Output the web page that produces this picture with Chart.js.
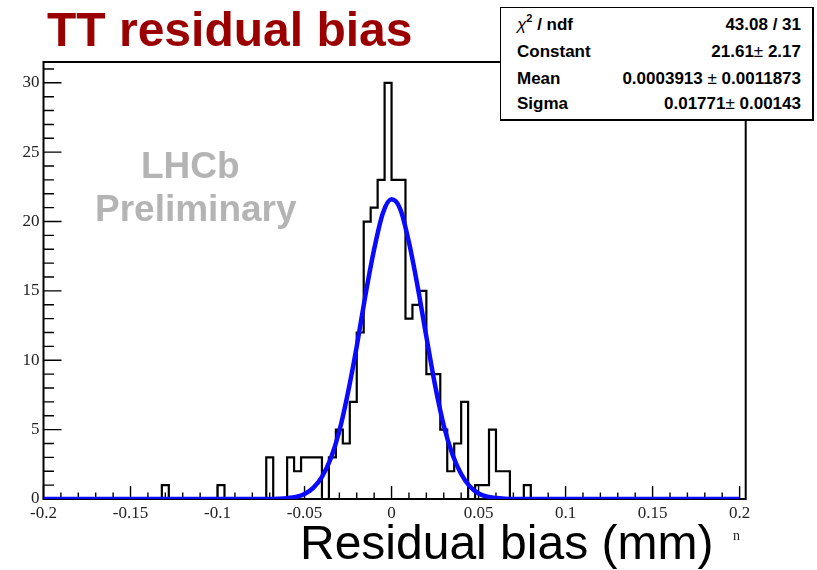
<!DOCTYPE html>
<html>
<head>
<meta charset="utf-8">
<script src="https://cdn.jsdelivr.net/npm/chart.js@4.4.1/dist/chart.umd.min.js"></script>
<style>
  html, body { margin: 0; padding: 0; background: #fff; }
  #wrap { position: relative; width: 817px; height: 570px; overflow: hidden; }
  #c { position: absolute; left: 0; top: 0; }
  .t { position: absolute; white-space: nowrap; font-family: "Liberation Sans", Arial, sans-serif; }
  #title { left: 47px; top: 6px; font-size: 48px; line-height: 48px; font-weight: bold; color: #9b0000; }
  #lhcb1 { left: 141px; top: 147px; font-size: 37px; line-height: 37px; font-weight: bold; color: #b4b4b4; }
  #lhcb2 { left: 95px; top: 190px; font-size: 37px; line-height: 37px; font-weight: bold; color: #b4b4b4; }
  #xtitle { left: 300px; top: 519px; font-size: 48px; line-height: 48px; color: #000; }
  #nn { left: 733px; top: 529px; font-size: 14px; line-height: 14px; font-family: "Liberation Serif", serif; color: #222; }
  #stats { position: absolute; left: 500px; top: 7px; width: 311px; height: 111px; background: #fff;
           border: 1.5px solid #000; border-bottom-width: 2.5px; border-right-width: 2.5px; }
  .row { position: absolute; left: 0; width: 100%; height: 20px; font-size: 17px; line-height: 20px; font-weight: bold; font-family: "Liberation Sans", Arial, sans-serif; }
  .lab { position: absolute; left: 16px; }
  .val { position: absolute; right: 11px; }
  .pm { font-weight: normal; }
  sup { font-size: 11px; line-height: 0; position: relative; top: -1px; }
</style>
</head>
<body>
<div id="wrap">
  <canvas id="c" width="817" height="570"></canvas>
  <div class="t" id="title">TT residual bias</div>
  <div class="t" id="lhcb1">LHCb</div>
  <div class="t" id="lhcb2">Preliminary</div>
  <div class="t" id="xtitle">Residual bias (mm)</div>
  <div class="t" id="nn">n</div>
  <div id="stats">
    <div class="row" style="top:7px"><span class="lab"><span style="font-weight:normal;font-style:italic">χ</span><sup>2</sup> / ndf</span><span class="val">43.08 / 31</span></div>
    <div class="row" style="top:34px"><span class="lab">Constant</span><span class="val">21.61<span class="pm">±</span> 2.17</span></div>
    <div class="row" style="top:61px"><span class="lab">Mean</span><span class="val">0.0003913 <span class="pm">±</span> 0.0011873</span></div>
    <div class="row" style="top:86px"><span class="lab">Sigma</span><span class="val">0.01771<span class="pm">±</span> 0.00143</span></div>
  </div>
</div>
<script>
// ---------- data ----------
const binLow = -0.2;
const binWidth = 0.004;
const counts = [
  0,0,0,0,0,0,0,0,0,0, 0,0,0,0,0,0,0,1,0,0,
  0,0,0,0,0,1,0,0,0,0, 0,0,3,0,0,3,2,3,3,3,
  0,3,5,4,7,12,20,21,23,30, 23,23,13,14,15,9,9,5,2,4,
  7,0,1,1,5,2,2,0,0,1, 0,0,0,0,0,0,0,0,0,0,
  0,0,0,0,0,0,0,0,0,0, 0,0,0,0,0,0,0,0,0,0
];
// Gaussian fit curve
const fitX = [-0.2, -0.07, -0.065, -0.06, -0.055, -0.05, -0.045, -0.04, -0.035, -0.03, -0.025, -0.02, -0.015, -0.01, -0.005,
              0, 0.005, 0.01, 0.015, 0.02, 0.025, 0.03, 0.035, 0.04, 0.045, 0.05, 0.055, 0.06, 0.065, 0.07, 0.2];
const fitY = [0, 0, 0.02, 0.06, 0.15, 0.36, 0.8, 1.6, 2.9, 4.9, 7.7, 11.0, 14.7, 18.0, 20.6,
              21.6, 20.9, 18.5, 15.3, 11.7, 8.2, 5.3, 3.2, 1.8, 0.9, 0.4, 0.17, 0.07, 0.02, 0, 0];
const xTicks = [-0.2, -0.15, -0.1, -0.05, 0, 0.05, 0.1, 0.15, 0.2];
const xTickLabels = ["-0.2", "-0.15", "-0.1", "-0.05", "0", "0.05", "0.1", "0.15", "0.2"];
const yTicks = [0, 5, 10, 15, 20, 25, 30];
const yTickLabels = ["0", "5", "10", "15", "20", "25", "30"];
const xMinorStep = 0.01;
const yMinorStep = 1;

// ---------- build ----------
const histPoints = counts.map((c, i) => ({ x: binLow + i * binWidth, y: c }));
histPoints.push({ x: binLow + counts.length * binWidth, y: counts[counts.length - 1] });
const fitPoints = fitX.map((x, i) => ({ x: x, y: fitY[i] }));

const framePlugin = {
  id: 'rootFrame',
  beforeDatasetsDraw(chart) {
    const { ctx, chartArea: a, scales } = chart;
    const xs = scales.x, ys = scales.y;
    ctx.save();
    ctx.strokeStyle = '#000';
    ctx.lineWidth = 2;
    ctx.strokeRect(a.left, a.top, a.right - a.left, a.bottom - a.top);
    ctx.lineWidth = 1.4;
    ctx.beginPath();
    const nx = Math.round((xTicks[xTicks.length - 1] - xTicks[0]) / xMinorStep);
    for (let i = 0; i <= nx; i++) {
      const v = xTicks[0] + i * xMinorStep;
      const px = xs.getPixelForValue(v);
      const len = (i % 5 === 0) ? 13 : 6.5;
      ctx.moveTo(px, a.bottom);
      ctx.lineTo(px, a.bottom - len);
    }
    for (let v = 0; v <= ys.max; v += yMinorStep) {
      const py = ys.getPixelForValue(v);
      const len = (Math.round(v) % 5 === 0) ? 18 : 10.5;
      ctx.moveTo(a.left, py);
      ctx.lineTo(a.left + len, py);
    }
    ctx.stroke();
    ctx.restore();
  }
};

const tickFont = { family: "'Liberation Serif', 'Times New Roman', serif", size: 17 };

new Chart(document.getElementById('c'), {
  type: 'line',
  data: {
    datasets: [
      { label: 'fit', data: fitPoints, borderColor: '#0a0aff', borderWidth: 4.5, pointRadius: 0,
        cubicInterpolationMode: 'monotone', fill: false, order: 0 },
      { label: 'hist', data: histPoints, borderColor: '#000', borderWidth: 2.2, pointRadius: 0,
        stepped: 'before', fill: false, order: 1 }
    ]
  },
  options: {
    responsive: false,
    animation: false,
    devicePixelRatio: 1,
    layout: { padding: { left: 0, top: 62, right: 71.3, bottom: 0 } },
    plugins: { legend: { display: false }, tooltip: { enabled: false }, title: { display: false } },
    scales: {
      x: {
        type: 'linear', min: -0.2, max: 0.2035,
        afterBuildTicks: s => { s.ticks = xTicks.map(v => ({ value: v })); },
        afterFit: s => { s.height = 71; },
        grid: { display: false, drawTicks: false },
        border: { display: false },
        ticks: { font: tickFont, color: '#222', padding: 4.5, maxRotation: 0, autoSkip: false,
                 callback: (v, i) => xTickLabels[i] }
      },
      y: {
        type: 'linear', min: 0, max: 31.5,
        afterBuildTicks: s => { s.ticks = yTicks.map(v => ({ value: v })); },
        afterFit: s => { s.width = 43.5; },
        grid: { display: false, drawTicks: false },
        border: { display: false },
        ticks: { font: tickFont, color: '#222', padding: 4, autoSkip: false,
                 callback: (v, i) => yTickLabels[i] }
      }
    }
  },
  plugins: [framePlugin]
});
</script>
</body>
</html>
